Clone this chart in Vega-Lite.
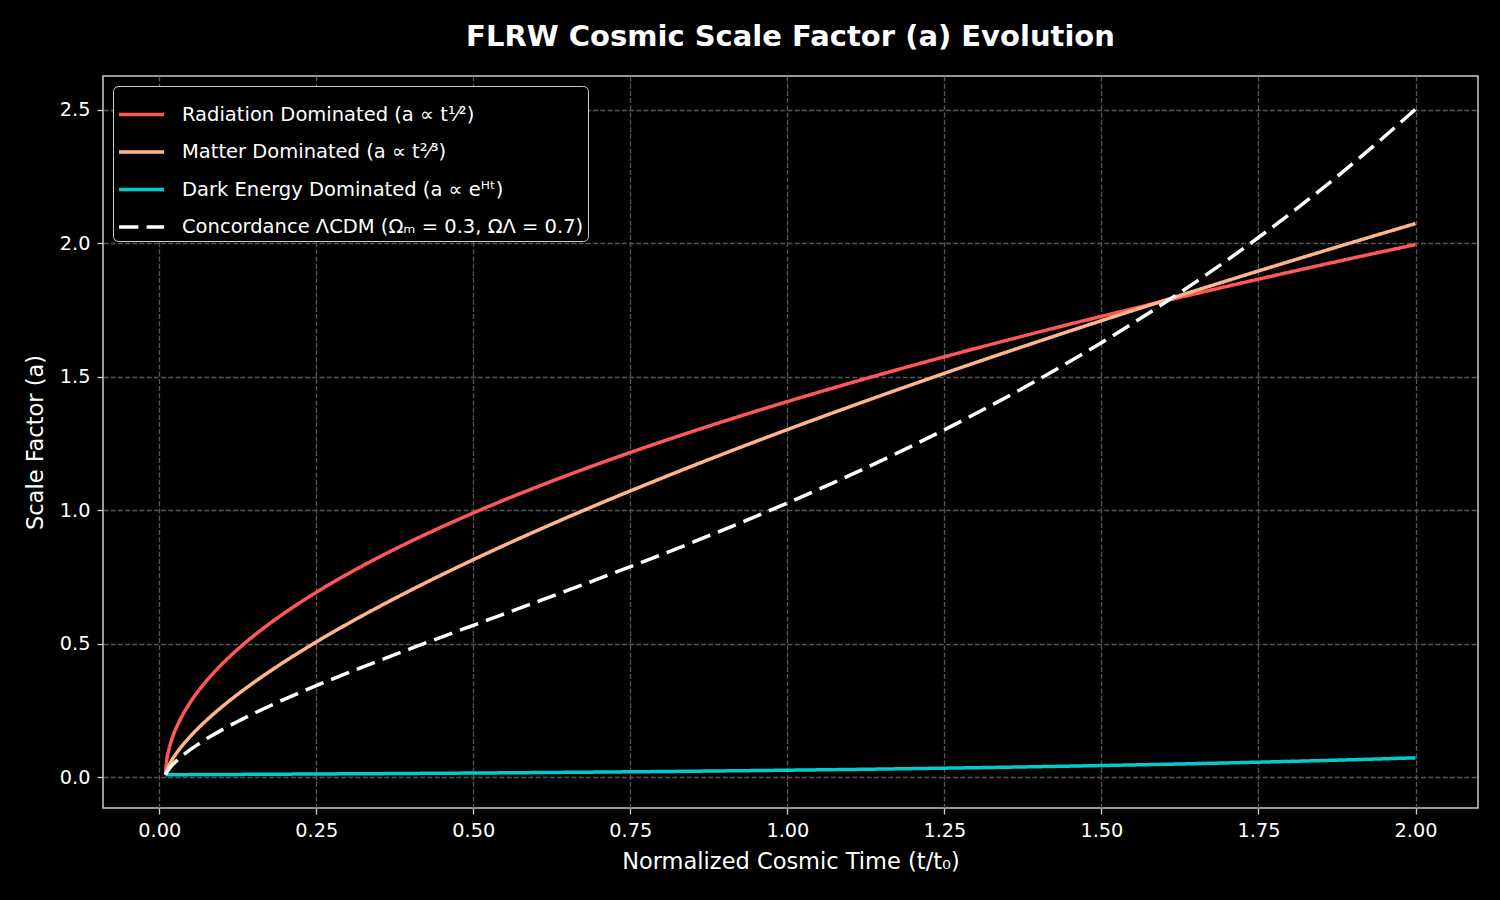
{
  "$schema": "https://vega.github.io/schema/vega-lite/v6.json",
  "width": 1375,
  "height": 732,
  "autosize": {"type": "none"},
  "padding": {"left": 103, "top": 76, "right": 22, "bottom": 92},
  "background": "black",
  "title": {
    "text": "FLRW Cosmic Scale Factor (a) Evolution",
    "font": "DejaVu Sans",
    "fontSize": 29,
    "fontWeight": "bold",
    "color": "white",
    "anchor": "middle",
    "offset": 24
  },
  "config": {
    "view": {"stroke": "#cccccc", "strokeWidth": 1.5},
    "axis": {
      "domain": false,
      "grid": true,
      "gridColor": "#565656",
      "gridDash": [5, 2.2],
      "gridWidth": 1.3,
      "tickColor": "#cccccc",
      "tickSize": 6,
      "tickWidth": 1.3,
      "labelColor": "white",
      "labelFont": "DejaVu Sans",
      "labelFontSize": 19.3,
      "labelPadding": 7,
      "titleColor": "white",
      "titleFont": "DejaVu Sans",
      "titleFontSize": 22.5,
      "titleFontWeight": "normal"
    },
    "legend": {
      "labelFont": "DejaVu Sans",
      "labelFontSize": 19.5,
      "labelColor": "white",
      "labelLimit": 800,
      "symbolType": "stroke",
      "symbolSize": 2025,
      "symbolStrokeWidth": 3.5,
      "labelOffset": 16,
      "rowPadding": 3.5,
      "padding": 4,
      "strokeColor": "#cccccc",
      "fillColor": "black",
      "cornerRadius": 5,
      "orient": "top-left",
      "offset": 10
    }
  },
  "data": {
    "values": [
      {"series": "rad", "t": 0.01, "a": 0.01},
      {"series": "rad", "t": 0.012, "a": 0.064},
      {"series": "rad", "t": 0.015, "a": 0.1005},
      {"series": "rad", "t": 0.02, "a": 0.1418},
      {"series": "rad", "t": 0.03, "a": 0.2002},
      {"series": "rad", "t": 0.04, "a": 0.2452},
      {"series": "rad", "t": 0.05, "a": 0.283},
      {"series": "rad", "t": 0.06, "a": 0.3164},
      {"series": "rad", "t": 0.08, "a": 0.3743},
      {"series": "rad", "t": 0.1, "a": 0.4244},
      {"series": "rad", "t": 0.125, "a": 0.4797},
      {"series": "rad", "t": 0.15, "a": 0.5292},
      {"series": "rad", "t": 0.175, "a": 0.5745},
      {"series": "rad", "t": 0.2, "a": 0.6165},
      {"series": "rad", "t": 0.25, "a": 0.6929},
      {"series": "rad", "t": 0.3, "a": 0.7616},
      {"series": "rad", "t": 0.35, "a": 0.8247},
      {"series": "rad", "t": 0.4, "a": 0.8832},
      {"series": "rad", "t": 0.5, "a": 0.99},
      {"series": "rad", "t": 0.6, "a": 1.0863},
      {"series": "rad", "t": 0.7, "a": 1.1748},
      {"series": "rad", "t": 0.8, "a": 1.257},
      {"series": "rad", "t": 0.9, "a": 1.3342},
      {"series": "rad", "t": 1.0, "a": 1.4072},
      {"series": "rad", "t": 1.1, "a": 1.4765},
      {"series": "rad", "t": 1.2, "a": 1.5428},
      {"series": "rad", "t": 1.3, "a": 1.6063},
      {"series": "rad", "t": 1.4, "a": 1.6674},
      {"series": "rad", "t": 1.5, "a": 1.7263},
      {"series": "rad", "t": 1.6, "a": 1.7833},
      {"series": "rad", "t": 1.7, "a": 1.8385},
      {"series": "rad", "t": 1.8, "a": 1.8921},
      {"series": "rad", "t": 1.9, "a": 1.9443},
      {"series": "rad", "t": 2.0, "a": 1.995},

      {"series": "mat", "t": 0.01, "a": 0.01},
      {"series": "mat", "t": 0.012, "a": 0.0252},
      {"series": "mat", "t": 0.015, "a": 0.0417},
      {"series": "mat", "t": 0.02, "a": 0.0635},
      {"series": "mat", "t": 0.03, "a": 0.0987},
      {"series": "mat", "t": 0.04, "a": 0.1284},
      {"series": "mat", "t": 0.05, "a": 0.1549},
      {"series": "mat", "t": 0.06, "a": 0.1794},
      {"series": "mat", "t": 0.08, "a": 0.224},
      {"series": "mat", "t": 0.1, "a": 0.2644},
      {"series": "mat", "t": 0.125, "a": 0.3111},
      {"series": "mat", "t": 0.15, "a": 0.3544},
      {"series": "mat", "t": 0.175, "a": 0.3953},
      {"series": "mat", "t": 0.2, "a": 0.4341},
      {"series": "mat", "t": 0.25, "a": 0.507},
      {"series": "mat", "t": 0.3, "a": 0.575},
      {"series": "mat", "t": 0.35, "a": 0.6392},
      {"series": "mat", "t": 0.4, "a": 0.7003},
      {"series": "mat", "t": 0.5, "a": 0.8152},
      {"series": "mat", "t": 0.6, "a": 0.9225},
      {"series": "mat", "t": 0.7, "a": 1.0239},
      {"series": "mat", "t": 0.8, "a": 1.1204},
      {"series": "mat", "t": 0.9, "a": 1.213},
      {"series": "mat", "t": 1.0, "a": 1.3022},
      {"series": "mat", "t": 1.1, "a": 1.3884},
      {"series": "mat", "t": 1.2, "a": 1.472},
      {"series": "mat", "t": 1.3, "a": 1.5534},
      {"series": "mat", "t": 1.4, "a": 1.6326},
      {"series": "mat", "t": 1.5, "a": 1.71},
      {"series": "mat", "t": 1.6, "a": 1.7856},
      {"series": "mat", "t": 1.7, "a": 1.8597},
      {"series": "mat", "t": 1.8, "a": 1.9323},
      {"series": "mat", "t": 1.9, "a": 2.0036},
      {"series": "mat", "t": 2.0, "a": 2.0736},

      {"series": "de", "t": 0.01, "a": 0.01},
      {"series": "de", "t": 0.02, "a": 0.0101},
      {"series": "de", "t": 0.05, "a": 0.0104},
      {"series": "de", "t": 0.1, "a": 0.0109},
      {"series": "de", "t": 0.15, "a": 0.0115},
      {"series": "de", "t": 0.2, "a": 0.0121},
      {"series": "de", "t": 0.25, "a": 0.0127},
      {"series": "de", "t": 0.3, "a": 0.0134},
      {"series": "de", "t": 0.35, "a": 0.014},
      {"series": "de", "t": 0.4, "a": 0.0148},
      {"series": "de", "t": 0.5, "a": 0.0163},
      {"series": "de", "t": 0.6, "a": 0.018},
      {"series": "de", "t": 0.7, "a": 0.0199},
      {"series": "de", "t": 0.8, "a": 0.022},
      {"series": "de", "t": 0.9, "a": 0.0243},
      {"series": "de", "t": 1.0, "a": 0.0269},
      {"series": "de", "t": 1.1, "a": 0.0297},
      {"series": "de", "t": 1.2, "a": 0.0329},
      {"series": "de", "t": 1.3, "a": 0.0363},
      {"series": "de", "t": 1.4, "a": 0.0401},
      {"series": "de", "t": 1.5, "a": 0.0444},
      {"series": "de", "t": 1.6, "a": 0.049},
      {"series": "de", "t": 1.7, "a": 0.0542},
      {"series": "de", "t": 1.8, "a": 0.0599},
      {"series": "de", "t": 1.9, "a": 0.0662},
      {"series": "de", "t": 2.0, "a": 0.0732},

      {"series": "lcdm", "t": 0.01, "a": 0.01},
      {"series": "lcdm", "t": 0.012, "a": 0.0191},
      {"series": "lcdm", "t": 0.015, "a": 0.0297},
      {"series": "lcdm", "t": 0.02, "a": 0.044},
      {"series": "lcdm", "t": 0.03, "a": 0.0672},
      {"series": "lcdm", "t": 0.04, "a": 0.087},
      {"series": "lcdm", "t": 0.05, "a": 0.1047},
      {"series": "lcdm", "t": 0.06, "a": 0.121},
      {"series": "lcdm", "t": 0.08, "a": 0.1509},
      {"series": "lcdm", "t": 0.1, "a": 0.178},
      {"series": "lcdm", "t": 0.125, "a": 0.2094},
      {"series": "lcdm", "t": 0.15, "a": 0.2387},
      {"series": "lcdm", "t": 0.175, "a": 0.2665},
      {"series": "lcdm", "t": 0.2, "a": 0.293},
      {"series": "lcdm", "t": 0.25, "a": 0.3434},
      {"series": "lcdm", "t": 0.3, "a": 0.3911},
      {"series": "lcdm", "t": 0.35, "a": 0.4371},
      {"series": "lcdm", "t": 0.4, "a": 0.4819},
      {"series": "lcdm", "t": 0.5, "a": 0.5694},
      {"series": "lcdm", "t": 0.6, "a": 0.6562},
      {"series": "lcdm", "t": 0.7, "a": 0.7441},
      {"series": "lcdm", "t": 0.8, "a": 0.8345},
      {"series": "lcdm", "t": 0.9, "a": 0.9285},
      {"series": "lcdm", "t": 1.0, "a": 1.0273},
      {"series": "lcdm", "t": 1.1, "a": 1.1319},
      {"series": "lcdm", "t": 1.2, "a": 1.2432},
      {"series": "lcdm", "t": 1.3, "a": 1.3623},
      {"series": "lcdm", "t": 1.4, "a": 1.4901},
      {"series": "lcdm", "t": 1.5, "a": 1.6276},
      {"series": "lcdm", "t": 1.6, "a": 1.776},
      {"series": "lcdm", "t": 1.7, "a": 1.9364},
      {"series": "lcdm", "t": 1.8, "a": 2.1099},
      {"series": "lcdm", "t": 1.9, "a": 2.2978},
      {"series": "lcdm", "t": 2.0, "a": 2.5016}
    ]
  },
  "mark": {"type": "line", "interpolate": "monotone", "strokeCap": "butt"},
  "encoding": {
    "x": {
      "field": "t",
      "type": "quantitative",
      "scale": {"domain": [-0.0895, 2.0995], "nice": false, "zero": false},
      "axis": {
        "title": "Normalized Cosmic Time (t/t₀)",
        "values": [0, 0.25, 0.5, 0.75, 1, 1.25, 1.5, 1.75, 2],
        "format": ".2f",
        "titlePadding": 10
      }
    },
    "y": {
      "field": "a",
      "type": "quantitative",
      "scale": {"domain": [-0.1146, 2.6262], "nice": false, "zero": false},
      "axis": {
        "title": "Scale Factor (a)",
        "values": [0, 0.5, 1, 1.5, 2, 2.5],
        "format": ".1f",
        "titlePadding": 12
      }
    },
    "color": {
      "field": "series",
      "type": "nominal",
      "scale": {
        "domain": ["rad", "mat", "de", "lcdm"],
        "range": ["#ff5757", "#ffb48c", "#00cccc", "#ffffff"]
      },
      "legend": {
        "title": null,
        "labelExpr": "datum.label == 'rad' ? 'Radiation Dominated (a ∝ t¹⁄²)' : datum.label == 'mat' ? 'Matter Dominated (a ∝ t²⁄³)' : datum.label == 'de' ? 'Dark Energy Dominated (a ∝ eᴴᵗ)' : 'Concordance ΛCDM (Ωₘ = 0.3, ΩΛ = 0.7)'"
      }
    },
    "strokeDash": {
      "field": "series",
      "type": "nominal",
      "scale": {
        "domain": ["rad", "mat", "de", "lcdm"],
        "range": [[1, 0], [1, 0], [1, 0], [19.3, 8.3]]
      },
      "legend": {
        "title": null,
        "labelExpr": "datum.label == 'rad' ? 'Radiation Dominated (a ∝ t¹⁄²)' : datum.label == 'mat' ? 'Matter Dominated (a ∝ t²⁄³)' : datum.label == 'de' ? 'Dark Energy Dominated (a ∝ eᴴᵗ)' : 'Concordance ΛCDM (Ωₘ = 0.3, ΩΛ = 0.7)'"
      }
    },
    "strokeWidth": {
      "field": "series",
      "type": "nominal",
      "scale": {
        "domain": ["rad", "mat", "de", "lcdm"],
        "range": [3.5, 3.5, 3.5, 5.2]
      },
      "legend": {
        "title": null,
        "labelExpr": "datum.label == 'rad' ? 'Radiation Dominated (a ∝ t¹⁄²)' : datum.label == 'mat' ? 'Matter Dominated (a ∝ t²⁄³)' : datum.label == 'de' ? 'Dark Energy Dominated (a ∝ eᴴᵗ)' : 'Concordance ΛCDM (Ωₘ = 0.3, ΩΛ = 0.7)'"
      }
    }
  }
}
